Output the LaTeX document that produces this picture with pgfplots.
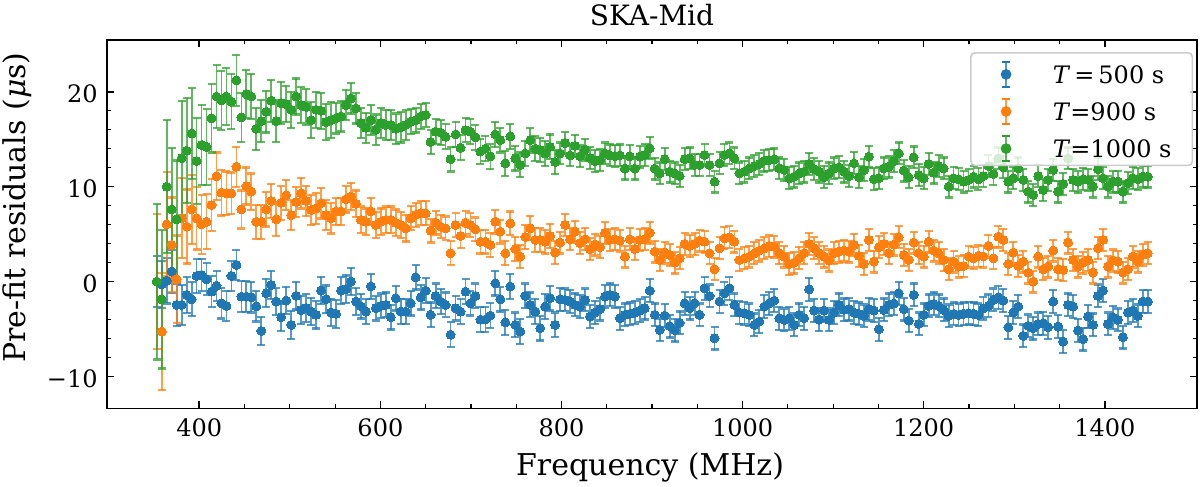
\documentclass[border=0pt]{standalone}
\usepackage{fontspec}
\setmainfont{DejaVu Serif}
\usepackage{pgfplots}
\pgfplotsset{compat=1.18}
\usepackage{pgfplotstable}
\definecolor{c1}{HTML}{1F77B4}
\definecolor{c2}{HTML}{FF7F0E}
\definecolor{c3}{HTML}{2CA02C}
\pgfplotstableread{
f b eb o eo g eg
353.0 0.0 2.7 0.0 7.1 0.0 8.2
358.5 -0.3 2.5 -5.26 6.2 -1.86 7.3
364.0 0.1 2.4 6.04 5.5 10.0 7.0
369.5 1.06 2.3 3.86 5.0 7.6 6.5
375.0 -2.45 2.2 0.25 4.6 6.56 6.2
380.5 -2.45 2.1 6.67 4.2 13.0 6.0
386.0 -1.4 1.9 5.8 3.9 13.8 5.5
391.5 -1.86 1.8 7.6 3.6 15.6 4.8
397.0 0.6 1.8 6.67 3.3 12.7 4.5
402.5 0.7 1.7 6.04 3.1 14.4 4.2
408.0 0.25 1.7 6.3 2.9 14.2 4.0
413.5 -1.05 1.6 8.07 2.7 17.2 3.6
419.0 -0.45 1.6 11.1 2.5 19.5 3.3
424.5 -2.28 1.6 9.37 2.4 19.1 3.1
430.0 -2.56 1.6 9.3 2.3 19.5 3.0
435.5 0.6 1.6 9.3 2.2 18.95 2.9
441.0 1.76 1.6 12.1 2.1 21.2 2.7
446.5 -1.58 1.6 7.6 2.0 17.3 2.6
452.0 -1.58 1.6 10.07 1.95 19.75 2.5
457.5 -1.65 1.6 9.48 1.9 19.5 2.4
463.0 -2.6 1.6 6.3 1.8 16.1 2.2
468.5 -5.2 1.45 6.3 1.8 16.9 2.2
474.0 -1.22 1.45 7.6 1.8 17.9 2.2
479.5 -0.35 1.45 8.5 1.8 19.05 2.2
485.0 -2.1 1.45 6.56 1.8 16.9 2.2
490.5 -3.75 1.45 8.3 1.8 18.8 2.2
496.0 -2.0 1.45 9.1 1.6 18.7 1.9
501.5 -4.56 1.45 7.0 1.6 18.1 1.9
507.0 -1.5 1.45 8.4 1.6 19.5 1.9
512.5 -3.0 1.45 9.3 1.6 18.6 1.9
518.0 -2.8 1.45 8.5 1.6 18.4 1.9
523.5 -3.16 1.45 7.55 1.6 17.0 1.9
529.0 -3.5 1.45 7.7 1.6 18.1 1.9
534.5 -0.95 1.45 8.25 1.6 18.0 1.9
540.0 -1.86 1.45 7.0 1.6 16.8 1.9
545.5 -3.26 1.45 6.67 1.6 17.0 1.9
551.0 -3.4 1.45 7.4 1.4 17.2 1.6
556.5 -0.95 1.45 7.4 1.4 17.4 1.6
562.0 -0.8 1.45 8.67 1.4 18.6 1.6
567.5 0.0 1.45 8.95 1.4 19.3 1.6
573.0 -2.1 1.45 8.2 1.4 18.25 1.6
578.5 -2.6 1.3 6.5 1.4 16.7 1.6
584.0 -3.16 1.3 6.3 1.4 16.2 1.6
589.5 -0.5 1.3 7.4 1.4 17.0 1.6
595.0 -2.8 1.3 5.97 1.4 16.0 1.6
600.5 -2.56 1.3 6.3 1.4 16.7 1.6
606.0 -2.45 1.3 6.5 1.4 16.5 1.6
611.5 -3.75 1.3 6.5 1.4 16.5 1.6
617.0 -1.75 1.3 6.2 1.4 16.1 1.6
622.5 -3.16 1.3 5.97 1.4 16.25 1.6
628.0 -3.16 1.3 5.62 1.4 16.5 1.6
633.5 -2.28 1.3 6.67 1.25 16.84 1.3
639.0 0.46 1.3 7.02 1.25 17.0 1.3
644.5 -1.65 1.3 7.2 1.25 17.4 1.3
650.0 -0.95 1.3 7.2 1.25 17.55 1.3
655.5 -3.5 1.3 5.37 1.25 14.7 1.3
661.0 -1.51 1.3 6.2 1.25 15.8 1.3
666.5 -2.1 1.3 5.8 1.25 15.7 1.3
672.0 -2.45 1.3 5.6 1.25 15.26 1.3
677.5 -5.6 1.3 2.99 1.25 12.9 1.3
683.0 -2.8 1.3 5.97 1.25 15.5 1.3
688.5 -3.16 1.3 4.81 1.25 14.1 1.3
694.0 -1.05 1.3 6.2 1.25 15.97 1.3
699.5 -2.28 1.3 5.97 1.25 15.8 1.3
705.0 -1.51 1.3 5.5 1.25 15.2 1.3
710.5 -4.0 1.3 4.2 1.25 13.7 1.3
716.0 -4.0 1.3 4.2 1.25 14.0 1.3
721.5 -3.58 1.3 3.86 1.25 13.2 1.3
727.0 -0.17 1.3 6.32 1.25 15.5 1.3
732.5 -1.86 1.3 5.27 1.25 14.9 1.3
738.0 -4.3 1.3 2.99 1.25 12.45 1.3
743.5 -0.52 1.3 6.14 1.25 15.3 1.3
749.0 -4.56 1.3 3.44 1.25 13.0 1.3
754.5 -5.26 1.3 2.64 1.25 12.3 1.3
760.0 -1.51 1.3 4.7 1.25 13.5 1.3
765.5 -2.45 1.3 5.62 1.25 14.9 1.3
771.0 -3.16 1.3 4.39 1.25 14.0 1.3
776.5 -4.91 1.3 4.39 1.25 13.86 1.3
782.0 -2.63 1.3 4.2 1.25 13.5 1.3
787.5 -1.75 1.3 4.81 1.25 14.2 1.3
793.0 -4.56 1.3 3.06 1.25 12.6 1.3
798.5 -1.86 1.2 4.11 1.15 13.5 1.15
804.0 -1.93 1.2 5.97 1.15 14.6 1.15
809.5 -2.1 1.2 4.46 1.15 13.3 1.15
815.0 -2.45 1.2 5.27 1.15 14.3 1.15
820.5 -2.63 1.2 4.04 1.15 13.2 1.15
826.0 -1.93 1.2 4.46 1.15 13.9 1.15
831.5 -3.68 1.2 3.44 1.15 13.0 1.15
837.0 -3.26 1.2 3.9 1.15 12.7 1.15
842.5 -2.9 1.2 3.65 1.15 12.8 1.15
848.0 -1.58 1.2 5.13 1.15 13.5 1.15
853.5 -1.4 1.2 4.39 1.15 13.3 1.15
859.0 -1.58 1.2 4.46 1.15 13.2 1.15
864.5 -3.86 1.2 4.32 1.15 13.3 1.15
870.0 -3.5 1.2 2.64 1.15 11.9 1.15
875.5 -3.4 1.2 4.46 1.15 13.2 1.15
881.0 -3.26 1.2 3.44 1.15 11.9 1.15
886.5 -3.05 1.2 4.39 1.15 13.16 1.15
892.0 -2.8 1.2 4.46 1.15 13.34 1.15
897.5 -0.95 1.2 5.16 1.15 14.04 1.15
903.0 -3.5 1.2 3.16 1.15 11.9 1.15
908.5 -5.09 1.2 2.28 1.15 11.4 1.15
914.0 -3.58 1.2 3.06 1.15 12.9 1.15
919.5 -4.7 1.2 2.81 1.15 11.58 1.15
925.0 -5.12 1.2 2.0 1.15 11.4 1.15
930.5 -4.35 1.2 2.46 1.15 11.12 1.15
936.0 -2.28 1.2 3.97 1.15 12.9 1.15
941.5 -2.8 1.2 3.76 1.15 12.98 1.15
947.0 -2.28 1.2 3.97 1.15 12.28 1.15
952.5 -3.5 1.2 4.32 1.15 12.28 1.15
958.0 -0.7 1.2 4.21 1.15 13.34 1.15
963.5 -1.51 1.2 2.99 1.15 12.28 1.15
969.0 -5.96 1.2 1.3 1.15 10.53 1.15
974.5 -2.1 1.2 3.51 1.15 12.47 1.15
980.0 -1.23 1.2 4.56 1.15 13.34 1.15
985.5 -0.7 1.2 4.67 1.15 13.51 1.15
991.0 -2.45 1.2 4.21 1.15 12.98 1.15
996.5 -3.26 1.2 2.28 1.15 11.4 1.15
1002.0 -3.33 1.2 2.46 1.15 11.58 1.15
1007.5 -3.51 1.2 2.64 1.15 11.93 1.15
1013.0 -4.56 1.2 2.99 1.15 12.18 1.15
1018.5 -4.21 1.2 3.27 1.15 12.39 1.15
1024.0 -2.63 1.2 3.51 1.15 12.74 1.15
1029.5 -2.28 1.2 3.76 1.15 12.81 1.15
1035.0 -2.0 1.2 3.69 1.15 12.88 1.15
1040.5 -3.86 1.2 2.99 1.15 11.93 1.15
1046.0 -4.04 1.2 2.64 1.15 11.76 1.15
1051.5 -3.86 1.2 1.86 1.15 10.88 1.15
1057.0 -4.56 1.2 2.0 1.15 11.06 1.15
1062.5 -3.5 1.2 2.46 1.15 11.4 1.15
1068.0 -3.86 1.2 2.99 1.15 11.58 1.15
1073.5 -0.81 1.2 3.97 1.15 12.39 1.15
1079.0 -3.05 1.2 3.51 1.15 11.83 1.15
1084.5 -4.0 1.2 2.99 1.15 11.58 1.15
1090.0 -3.05 1.2 2.64 1.15 10.99 1.15
1095.5 -4.04 1.2 2.22 1.15 11.4 1.15
1101.0 -3.26 1.2 2.99 1.15 11.93 1.15
1106.5 -2.45 1.2 3.16 1.15 12.04 1.15
1112.0 -2.98 1.2 3.27 1.15 11.58 1.15
1117.5 -2.91 1.2 3.16 1.15 11.12 1.15
1123.0 -3.26 1.2 3.86 1.15 12.46 1.15
1128.5 -3.4 1.2 2.71 1.15 10.99 1.15
1134.0 -3.62 1.2 1.86 1.15 11.76 1.15
1139.5 -2.91 1.2 4.39 1.15 13.16 1.15
1145.0 -3.05 1.2 2.11 1.15 10.78 1.15
1150.5 -5.02 1.2 3.62 1.15 10.88 1.15
1156.0 -2.98 1.2 3.97 1.15 11.93 1.15
1161.5 -2.45 1.2 2.99 1.15 12.11 1.15
1167.0 -2.3 1.2 3.9 1.15 12.7 1.15
1172.5 -1.23 1.2 4.67 1.15 13.51 1.15
1178.0 -2.91 1.2 2.81 1.15 11.69 1.15
1183.5 -4.11 1.2 2.28 1.15 10.99 1.15
1189.0 -1.4 1.2 4.11 1.15 13.09 1.15
1194.5 -4.46 1.2 2.99 1.15 11.23 1.15
1200.0 -3.5 1.2 2.64 1.15 10.88 1.15
1205.5 -2.56 1.2 4.21 1.15 12.39 1.15
1211.0 -2.35 1.2 3.27 1.15 11.48 1.15
1216.5 -2.56 1.2 2.99 1.15 12.18 1.15
1222.0 -2.98 1.2 2.28 1.15 11.93 1.15
1227.5 -3.62 1.2 1.3 1.15 10.01 1.15
1233.0 -3.4 1.2 2.11 1.15 10.88 1.15
1238.5 -3.51 1.2 1.58 1.15 10.78 1.15
1244.0 -3.4 1.2 1.65 1.15 10.53 1.15
1249.5 -3.33 1.2 2.64 1.15 10.71 1.15
1255.0 -3.4 1.2 2.46 1.15 11.06 1.15
1260.5 -3.51 1.2 2.71 1.15 10.78 1.15
1266.0 -2.8 1.2 2.64 1.15 11.12 1.15
1271.5 -2.56 1.2 3.76 1.15 12.18 1.15
1277.0 -1.93 1.2 2.46 1.15 11.34 1.15
1282.5 -1.65 1.2 4.74 1.15 12.98 1.15
1288.0 -2.0 1.2 4.39 1.15 12.04 1.15
1293.5 -4.81 1.2 1.86 1.15 10.53 1.15
1299.0 -3.26 1.2 3.06 1.15 10.88 1.15
1304.5 -2.63 1.2 1.65 1.15 11.93 1.15
1310.0 -5.72 1.2 2.11 1.15 10.71 1.15
1315.5 -4.67 1.2 0.95 1.15 9.48 1.15
1321.0 -4.91 1.2 0.0 1.15 9.13 1.15
1326.5 -4.46 1.2 2.64 1.15 11.12 1.15
1332.0 -4.39 1.2 1.3 1.15 9.65 1.15
1337.5 -4.81 1.2 1.58 1.15 10.71 1.15
1343.0 -2.1 1.2 3.27 1.15 11.76 1.15
1348.5 -4.74 1.2 1.3 1.15 9.48 1.15
1354.0 -6.32 1.2 1.23 1.15 10.29 1.15
1359.5 -2.45 1.2 4.11 1.15 12.98 1.15
1365.0 -2.63 1.2 2.28 1.15 10.71 1.15
1370.5 -5.16 1.2 1.58 1.15 10.53 1.15
1376.0 -6.07 1.2 2.0 1.15 10.78 1.15
1381.5 -3.68 1.2 2.28 1.15 10.71 1.15
1387.0 -4.56 1.2 0.95 1.15 10.01 1.15
1392.5 -1.51 1.2 3.51 1.15 11.83 1.15
1398.0 -0.95 1.2 4.39 1.15 10.88 1.15
1403.5 -4.46 1.2 1.58 1.15 10.01 1.15
1409.0 -3.76 1.2 2.22 1.15 10.53 1.15
1414.5 -4.04 1.2 2.11 1.15 10.53 1.15
1420.0 -5.86 1.2 0.95 1.15 9.48 1.15
1425.5 -3.26 1.2 1.3 1.15 10.36 1.15
1431.0 -3.05 1.2 2.64 1.15 10.88 1.15
1436.5 -3.62 1.2 2.11 1.15 10.78 1.15
1442.0 -2.1 1.2 2.81 1.15 11.06 1.15
1447.5 -2.1 1.2 2.99 1.15 11.06 1.15
}\data
\pgfplotsset{
  ebstyle/.style={
    only marks, color=#1, mark=*, mark size=2.25pt,
    mark options={fill=#1, draw=#1, line width=0pt},
    error bars/.cd, y dir=both, y explicit,
    error bar style={line width=0.9pt, #1, opacity=0.75},
    error mark options={rotate=90, mark size=2pt, line width=1.1pt, #1}
  },
}
\begin{document}
\begin{tikzpicture}
\begin{axis}[
  scale only axis, width=544.7pt, height=184.15pt,
  xmin=298.4, xmax=1501.5, ymin=-13.35, ymax=25.45,
  xtick={400,600,800,1000,1200,1400},
  ytick={-10,0,10,20}, yticklabels={−10,0,10,20},
  minor x tick num=3, minor y tick num=4,
  tick align=inside, tick pos=both,
  major tick length=3.5pt, minor tick length=2pt,
  every major tick/.style={line width=0.8pt, black},
  every minor tick/.style={line width=0.6pt, black},
  axis line style={line width=0.8pt},
  /pgf/number format/assume math mode=true,
  /pgf/number format/1000 sep={},
  ticklabel style={font=\fontsize{12}{14}\selectfont},
  xticklabel style={yshift=-1.5pt},
  yticklabel style={xshift=-1.3pt, yshift=-1.2pt},
  title={SKA-Mid},
  every axis title/.style={at={(axis description cs:0.5,1.0407)}, anchor=base, font=\fontsize{14}{16}\selectfont},
  xlabel={Frequency (MHz)},
  every axis x label/.style={at={(axis description cs:0.4982,-0.1819)}, anchor=base, font=\fontsize{15}{18}\selectfont},
  ylabel={Pre-fit residuals (\textit{μ}s)},
  every axis y label/.style={at={(axis description cs:-0.07527,0.54507)}, rotate=90, anchor=base, font=\fontsize{15}{18}\selectfont},
  legend style={at={(axis description cs:0.9967,0.9674)}, anchor=north east,
    draw=black!20, line width=0.8pt, rounded corners=2pt, fill=white, fill opacity=0.8, text opacity=1,
    font=\fontsize{12}{14}\selectfont, inner xsep=10.4pt, inner ysep=1.65pt, row sep=2.65pt,
    nodes={draw=none, fill=none, inner sep=0pt, text height=10.5pt, text depth=1.5pt, anchor=west, text=black}},
  legend cell align=left,
  legend image code/.code={
    \path[draw=none, fill=none] (0pt,-6.7pt) rectangle (30.6pt,9.15pt);
    \draw[line width=0.9pt, draw opacity=0.75] (7.2pt,-6.2pt) -- (7.2pt,6.2pt);
    \draw[line width=1.1pt, draw opacity=1] (5.2pt,-6.2pt) -- (9.2pt,-6.2pt);
    \draw[line width=1.1pt, draw opacity=1] (5.2pt,6.2pt) -- (9.2pt,6.2pt);
    \fill[fill opacity=1] (7.2pt,0pt) circle (2.25pt);
  },
]
\addplot[ebstyle=c1] table[x=f, y=b, y error=eb] {\data};
\addlegendentry{\textit{T}\hspace{2pt}=\hspace{2pt}500 s}
\addplot[ebstyle=c2] table[x=f, y=o, y error=eo] {\data};
\addlegendentry{\textit{T}=900 s}
\addplot[ebstyle=c3] table[x=f, y=g, y error=eg] {\data};
\addlegendentry{\textit{T}=1000 s}
\end{axis}
\pgfresetboundingbox
\path[use as bounding box] ([xshift=-53.65pt,yshift=-39.35pt]current axis.south west) rectangle ([xshift=1.65pt,yshift=20pt]current axis.north east);
\end{tikzpicture}
\end{document}
